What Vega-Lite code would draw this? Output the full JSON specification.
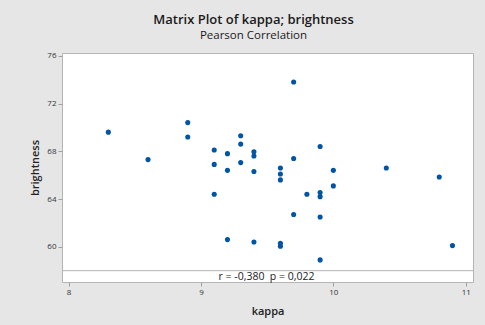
{
  "$schema": "https://vega.github.io/schema/vega-lite/v6.json",
  "width": 411,
  "height": 229,
  "autosize": {"type": "none"},
  "padding": {"left": 62, "top": 53, "right": 12, "bottom": 43},
  "background": "#e6e6e6",
  "title": {
    "text": "Matrix Plot of kappa; brightness",
    "subtitle": "Pearson Correlation",
    "anchor": "middle",
    "frame": "group",
    "dx": -14,
    "offset": 10,
    "font": "Open Sans",
    "fontSize": 13,
    "fontWeight": 600,
    "color": "#1a1a1a",
    "subtitleFont": "Open Sans",
    "subtitleFontSize": 11.5,
    "subtitleFontWeight": 500,
    "subtitleColor": "#1a1a1a",
    "subtitlePadding": 3
  },
  "config": {
    "view": {"fill": "white", "stroke": "#b4b4b4", "strokeWidth": 1},
    "axis": {
      "grid": false,
      "domain": false,
      "tickColor": "#a0a0a0",
      "tickSize": 4,
      "labelFont": "Open Sans",
      "labelFontSize": 8,
      "labelColor": "#333333",
      "titleFont": "Open Sans",
      "titleFontSize": 11,
      "titleFontWeight": 600,
      "titleColor": "#222222"
    }
  },
  "data": {
    "values": [
      {"kappa": 8.3, "brightness": 69.6},
      {"kappa": 8.6, "brightness": 67.3},
      {"kappa": 8.9, "brightness": 70.4},
      {"kappa": 8.9, "brightness": 69.2},
      {"kappa": 9.1, "brightness": 68.1},
      {"kappa": 9.1, "brightness": 66.9},
      {"kappa": 9.1, "brightness": 64.4},
      {"kappa": 9.2, "brightness": 67.8},
      {"kappa": 9.2, "brightness": 66.4},
      {"kappa": 9.2, "brightness": 60.6},
      {"kappa": 9.3, "brightness": 69.3},
      {"kappa": 9.3, "brightness": 68.6},
      {"kappa": 9.3, "brightness": 67.05},
      {"kappa": 9.4, "brightness": 67.95},
      {"kappa": 9.4, "brightness": 67.6},
      {"kappa": 9.4, "brightness": 66.3},
      {"kappa": 9.4, "brightness": 60.4},
      {"kappa": 9.6, "brightness": 66.6},
      {"kappa": 9.6, "brightness": 66.1},
      {"kappa": 9.6, "brightness": 65.6},
      {"kappa": 9.6, "brightness": 60.3},
      {"kappa": 9.6, "brightness": 60.05},
      {"kappa": 9.7, "brightness": 73.8},
      {"kappa": 9.7, "brightness": 67.4},
      {"kappa": 9.7, "brightness": 62.7},
      {"kappa": 9.8, "brightness": 64.4},
      {"kappa": 9.9, "brightness": 68.4},
      {"kappa": 9.9, "brightness": 64.55},
      {"kappa": 9.9, "brightness": 64.2},
      {"kappa": 9.9, "brightness": 62.5},
      {"kappa": 9.9, "brightness": 58.9},
      {"kappa": 10.0, "brightness": 66.4},
      {"kappa": 10.0, "brightness": 65.1},
      {"kappa": 10.4, "brightness": 66.6},
      {"kappa": 10.8, "brightness": 65.85},
      {"kappa": 10.9, "brightness": 60.1}
    ]
  },
  "layer": [
    {
      "mark": {"type": "circle", "size": 26, "opacity": 1, "color": "#0054a6"},
      "encoding": {
        "x": {
          "field": "kappa", "type": "quantitative", "title": "kappa",
          "scale": {"domain": [7.95, 11.055], "nice": false, "zero": false},
          "axis": {"values": [8, 9, 10, 11], "format": "d", "titlePadding": 9}
        },
        "y": {
          "field": "brightness", "type": "quantitative", "title": "brightness",
          "scale": {"domain": [57.05, 76.23], "nice": false, "zero": false},
          "axis": {"values": [60, 64, 68, 72, 76], "format": "d", "titlePadding": 6}
        }
      }
    },
    {
      "data": {"values": [{"label": "r = -0,380\u00a0 p = 0,022"}]},
      "layer": [
        {
          "mark": {"type": "rule", "color": "#b4b4b4", "strokeWidth": 1},
          "encoding": {"y": {"datum": 58}}
        },
        {
          "mark": {"type": "text", "font": "Open Sans", "fontSize": 10.5, "color": "#1a1a1a", "align": "center", "baseline": "middle"},
          "encoding": {
            "x": {"datum": 9.495},
            "y": {"datum": 57.49},
            "text": {"field": "label"}
          }
        }
      ]
    }
  ]
}
